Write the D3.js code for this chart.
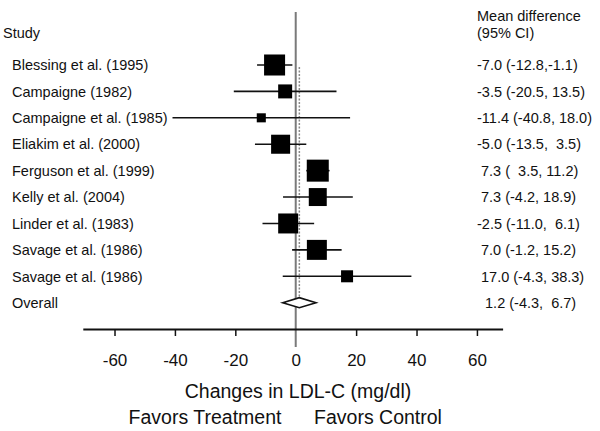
<!DOCTYPE html>
<html><head><meta charset="utf-8">
<script src="https://cdn.jsdelivr.net/npm/d3@7/dist/d3.min.js"></script>
<style>body{margin:0;background:#fff}svg{display:block}text{font-family:Arial,"Liberation Sans",sans-serif;fill:#111}</style>
</head><body><svg id="c" width="600" height="431"></svg>
<script>
const studies = ["Blessing et al. (1995)","Campaigne (1982)","Campaigne et al. (1985)","Eliakim et al. (2000)","Ferguson et al. (1999)","Kelly et al. (2004)","Linder et al. (1983)","Savage et al. (1986)","Savage et al. (1986)"];
const estimates = [-7.0,-3.5,-11.4,-5.0,7.3,7.3,-2.5,7.0,17.0];
const lower = [-12.8,-20.5,-40.8,-13.5,3.5,-4.2,-11.0,-1.2,-4.3];
const upper = [-1.1,13.5,18.0,3.5,11.2,18.9,6.1,15.2,38.3];
const weights = [15.6,6.9,2.9,12.8,17.1,11.4,14.1,14.1,5.1];
const ciLabels = ["-7.0 (-12.8,-1.1)","-3.5 (-20.5, 13.5)","-11.4 (-40.8, 18.0)","-5.0 (-13.5,  3.5)"," 7.3 (  3.5, 11.2)"," 7.3 (-4.2, 18.9)","-2.5 (-11.0,  6.1)"," 7.0 (-1.2, 15.2)"," 17.0 (-4.3, 38.3)"];
const overall = {label:"Overall", est:1.2, lo:-4.3, hi:6.7, text:"  1.2 (-4.3,  6.7)"};
const tickValues = [-60,-40,-20,0,20,40,60];

const svg = d3.select("#c");
const x = d3.scaleLinear().domain([-70.5,68.5]).range([82.8,502.6]);
const rows = studies.map((s,i)=>"r"+i).concat(["overall"]);
const y = d3.scalePoint().domain(rows).range([65,302.7]);
const size = d3.scaleSqrt().domain([0,d3.max(weights)]).range([0,22]);
const axisY = 329;

// zero line
svg.append("line").attr("x1",x(0)).attr("x2",x(0)).attr("y1",12).attr("y2",347)
  .attr("stroke","#7a7a7a").attr("stroke-width",2);
// overall effect dotted line
svg.append("line").attr("x1",x(overall.est)).attr("x2",x(overall.est)).attr("y1",y("r0")+2).attr("y2",y("overall")+4)
  .attr("stroke","#8a8a8a").attr("stroke-width",1.5).attr("stroke-dasharray","2,1.5");

// axis
const ax = svg.append("g").attr("transform",`translate(0,${axisY})`)
  .call(d3.axisBottom(x).tickValues(tickValues).tickSize(7).tickSizeOuter(0).tickPadding(18).tickFormat(d=>String(d)));
ax.select(".domain").attr("stroke","#111").attr("stroke-width",2);
ax.selectAll(".tick line").attr("stroke","#111").attr("stroke-width",1.5);
ax.selectAll(".tick text").style("font-size","17px").attr("fill","#111").style("font-family","Arial, 'Liberation Sans', sans-serif");
ax.selectAll(".tick").filter(d=>d===0).select("line").remove();

// CI lines and squares
const g = svg.append("g");
studies.forEach((s,i)=>{
  const yy = y("r"+i);
  g.append("line").attr("x1",x(lower[i])).attr("x2",x(upper[i])).attr("y1",yy).attr("y2",yy)
    .attr("stroke","#111").attr("stroke-width",1.6);
  const w = size(weights[i]);
  g.append("rect").attr("x",x(estimates[i])-w/2).attr("y",yy-w/2).attr("width",w).attr("height",w).attr("fill","#000");
  svg.append("text").attr("x",12).attr("y",yy).attr("dy","0.36em").style("font-size","14.5px").text(s);
  svg.append("text").attr("x",477).attr("y",yy).attr("dy","0.36em").style("font-size","14.5px").style("white-space","pre").text(ciLabels[i]);
});
// diamond
const yo = y("overall");
g.append("path").attr("d",`M${x(overall.lo)},${yo}L${x(overall.est)},${yo-5}L${x(overall.hi)},${yo}L${x(overall.est)},${yo+5}Z`)
  .attr("fill","#fff").attr("stroke","#111").attr("stroke-width",1.6);
svg.append("text").attr("x",12).attr("y",yo).attr("dy","0.36em").style("font-size","14.5px").text(overall.label);
svg.append("text").attr("x",477).attr("y",yo).attr("dy","0.36em").style("font-size","14.5px").style("white-space","pre").text(overall.text);

// headers
svg.append("text").attr("x",3).attr("y",33).attr("dy","0.36em").style("font-size","14.5px").text("Study");
svg.append("text").attr("x",477).attr("y",16).attr("dy","0.36em").style("font-size","14.5px").text("Mean difference");
svg.append("text").attr("x",477).attr("y",33).attr("dy","0.36em").style("font-size","14.5px").text("(95% CI)");

// axis titles
svg.append("text").attr("x",298).attr("y",391).attr("dy","0.36em").attr("text-anchor","middle").style("font-size","19.5px").text("Changes in LDL-C (mg/dl)");
svg.append("text").attr("x",205).attr("y",417).attr("dy","0.36em").attr("text-anchor","middle").style("font-size","19.5px").text("Favors Treatment");
svg.append("text").attr("x",378).attr("y",417).attr("dy","0.36em").attr("text-anchor","middle").style("font-size","19.5px").text("Favors Control");
</script></body></html>
